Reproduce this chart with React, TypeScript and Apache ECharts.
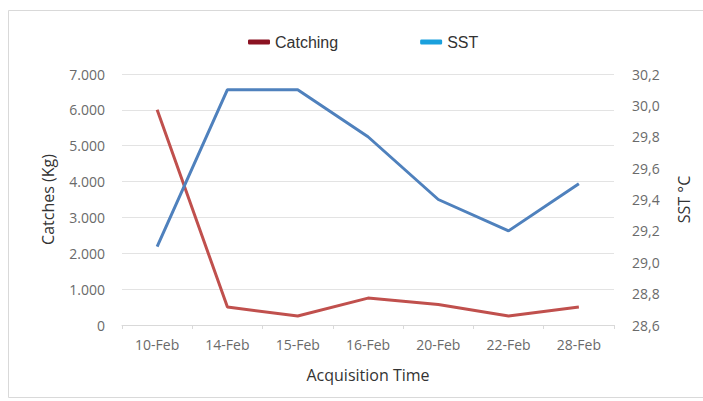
import React, { useEffect, useRef } from "react";
import * as echarts from "echarts";

const categories = ["10-Feb", "14-Feb", "15-Feb", "16-Feb", "20-Feb", "22-Feb", "28-Feb"];
const catching = [6000, 500, 250, 750, 570, 250, 500];
const sst = [29.1, 30.1, 30.1, 29.8, 29.4, 29.2, 29.5];
const seriesNames = ["Catching", "SST"];

export default function App() {
  const ref = useRef<HTMLDivElement>(null);
  useEffect(() => {
    if (!ref.current) return;
    const chart = echarts.init(ref.current, null, { renderer: "svg" });
    const labelFont = "'Open Sans', sans-serif";
    chart.setOption({
      animation: false,
      backgroundColor: "#ffffff",
      graphic: [
        {
          type: "rect",
          shape: { x: 8.5, y: 10.5, width: 720, height: 387 },
          style: { fill: "none", stroke: "#d9d9d9", lineWidth: 1 },
          silent: true,
        },
      ],
      legend: {
        top: 29,
        left: 243,
        itemGap: 82,
        itemWidth: 22,
        itemHeight: 5,
        icon: "roundRect",
        textStyle: { fontFamily: "'Liberation Sans', Arial, sans-serif", fontSize: 16, color: "#333" },
        data: [
          { name: seriesNames[0], itemStyle: { color: "#8B1222" } },
          { name: seriesNames[1], itemStyle: { color: "#1AA0DD" } },
        ],
      },
      grid: { left: 122, right: 89, top: 74, bottom: 76 },
      xAxis: {
        type: "category",
        data: categories,
        boundaryGap: true,
        name: "Acquisition Time",
        nameLocation: "middle",
        nameGap: 42,
        nameTextStyle: { fontFamily: labelFont, fontSize: 16, color: "#333" },
        axisLine: { lineStyle: { color: "#d9d9d9" } },
        axisTick: { show: true, length: 4, lineStyle: { color: "#d9d9d9" } },
        axisLabel: { fontFamily: labelFont, fontSize: 14, color: "#6a6a6a", margin: 12 },
      },
      yAxis: [
        {
          type: "value",
          min: 0,
          max: 7000,
          interval: 1000,
          name: "Catches (Kg)",
          nameLocation: "middle",
          nameRotate: 90,
          nameGap: 66,
          nameTextStyle: { fontFamily: labelFont, fontSize: 16, color: "#333" },
          axisLine: { show: false },
          axisTick: { show: false },
          splitLine: { lineStyle: { color: "#e3e3e3", width: 1 } },
          axisLabel: {
            fontFamily: labelFont,
            fontSize: 14,
            color: "#6a6a6a",
            margin: 17,
            formatter: (v: number) => (v === 0 ? "0" : (v / 1000).toFixed(0) + ".000"),
          },
        },
        {
          type: "value",
          min: 28.6,
          max: 30.2,
          interval: 0.2,
          name: "SST °C",
          nameLocation: "middle",
          nameRotate: 90,
          nameGap: 62,
          nameTextStyle: { fontFamily: labelFont, fontSize: 16, color: "#333" },
          axisLine: { show: false },
          axisTick: { show: false },
          splitLine: { show: false },
          axisLabel: {
            fontFamily: labelFont,
            fontSize: 14,
            color: "#6a6a6a",
            margin: 18,
            formatter: (v: number) => v.toFixed(1).replace(".", ","),
          },
        },
      ],
      series: [
        {
          name: seriesNames[0],
          type: "line",
          data: catching,
          yAxisIndex: 0,
          symbol: "none",
          lineStyle: { color: "#C0504D", width: 3 },
          itemStyle: { color: "#8B1222" },
        },
        {
          name: seriesNames[1],
          type: "line",
          data: sst,
          yAxisIndex: 1,
          symbol: "none",
          lineStyle: { color: "#4F81BD", width: 3 },
          itemStyle: { color: "#1AA0DD" },
        },
      ],
    });
    return () => chart.dispose();
  }, []);
  return <div ref={ref} style={{ position: "fixed", left: 0, top: 0, width: 703, height: 401 }} />;
}
